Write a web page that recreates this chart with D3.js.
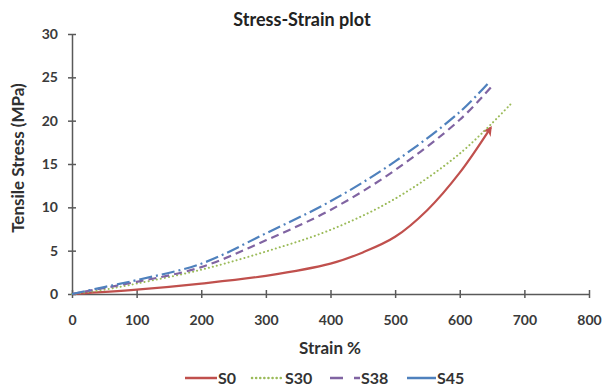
<!DOCTYPE html>
<html>
<head>
<meta charset="utf-8">
<script src="https://cdn.jsdelivr.net/npm/d3@7"></script>
<style>
  html, body { margin: 0; padding: 0; background: #fff; }
  svg { display: block; font-family: Lato, "Open Sans", sans-serif; }
</style>
</head>
<body>
<svg id="chart" width="606" height="389"></svg>
<script>
const seriesNames = ["S0", "S30", "S38", "S45"];
const strainS0 = [0, 100, 200, 300, 400, 450, 500, 550, 600, 648];
const stressS0 = [0, 0.5, 1.2, 2.1, 3.5, 4.8, 6.6, 9.7, 14.0, 19.2];
const strainS30 = [0, 50, 100, 200, 300, 400, 500, 600, 680];
const stressS30 = [0, 0.5, 1.2, 2.8, 4.9, 7.4, 11.0, 16.2, 22.0];
const strainS38 = [0, 50, 100, 200, 300, 400, 500, 600, 650];
const stressS38 = [0, 0.7, 1.4, 3.1, 6.2, 9.7, 14.3, 20.1, 24.0];
const strainS45 = [0, 50, 100, 200, 300, 400, 500, 600, 645];
const stressS45 = [0, 0.8, 1.6, 3.5, 7.0, 10.7, 15.3, 21.0, 24.4];
const xTicks = [0, 100, 200, 300, 400, 500, 600, 700, 800];
const yTicks = [0, 5, 10, 15, 20, 25, 30];

const series = [
  { name: seriesNames[0], xs: strainS0, ys: stressS0, color: "#C0504D", dash: null, cap: "butt" },
  { name: seriesNames[1], xs: strainS30, ys: stressS30, color: "#9BBB59", dash: "0.1,4", cap: "round" },
  { name: seriesNames[2], xs: strainS38, ys: stressS38, color: "#8064A2", dash: "8,5", cap: "butt" },
  { name: seriesNames[3], xs: strainS45, ys: stressS45, color: "#4F81BD", dash: "13,4,2,4", cap: "butt" }
];

const svg = d3.select("#chart");
const x = d3.scaleLinear().domain([0, 800]).range([72, 589]);
const y = d3.scaleLinear().domain([0, 30]).range([294, 34]);
const axisColor = "#595959";
const textColor = "#3a3a3a";

svg.append("defs").append("marker")
  .attr("id", "arrow")
  .attr("viewBox", "0 0 10 10")
  .attr("refX", 8).attr("refY", 5)
  .attr("markerWidth", 4.5).attr("markerHeight", 4.5)
  .attr("orient", "auto")
  .append("path").attr("d", "M0,0 L10,5 L0,10 L3,5 Z").attr("fill", "#C0504D");

const xAxis = d3.axisBottom(x).tickValues(xTicks).tickSize(0).tickPadding(21);
const gx = svg.append("g").attr("transform", `translate(0,${y(0)})`).call(xAxis);
const yAxis = d3.axisLeft(y).tickValues(yTicks).tickSize(0).tickPadding(14);
const gy = svg.append("g").attr("transform", `translate(${x(0)},0)`).call(yAxis);

[gx, gy].forEach(g => {
  g.select(".domain").attr("stroke", axisColor).attr("stroke-width", 1.5);
  g.selectAll("text").attr("fill", textColor).attr("font-size", 14).attr("font-weight", "bold")
    .attr("font-family", "Lato, sans-serif");
});
gx.selectAll(".tick").append("line").attr("y1", -4).attr("y2", 4)
  .attr("stroke", axisColor).attr("stroke-width", 1.5);
gy.selectAll(".tick").append("line").attr("x1", -4).attr("x2", 4)
  .attr("stroke", axisColor).attr("stroke-width", 1.5);

const line = d3.line().curve(d3.curveCatmullRom.alpha(0.5)).x(d => x(d[0])).y(d => y(d[1]));
series.forEach((s, i) => {
  const pts = s.xs.map((v, k) => [v, s.ys[k]]);
  const p = svg.append("path")
    .attr("d", line(pts))
    .attr("fill", "none")
    .attr("stroke", s.color)
    .attr("stroke-width", i === 1 ? 2 : 2.2)
    .attr("stroke-linecap", s.cap);
  if (s.dash) p.attr("stroke-dasharray", s.dash);
  if (i === 0) p.attr("marker-end", "url(#arrow)");
});

svg.append("text").attr("x", 302).attr("y", 26).attr("text-anchor", "middle")
  .attr("font-size", 18).attr("font-weight", "bold").attr("fill", "#222")
  .text("Stress-Strain plot");
svg.append("text").attr("x", 330).attr("y", 354).attr("text-anchor", "middle")
  .attr("font-size", 17).attr("font-weight", "bold").attr("fill", "#303030")
  .text("Strain %");
svg.append("text").attr("transform", "translate(24,158) rotate(-90)").attr("text-anchor", "middle")
  .attr("font-size", 17).attr("font-weight", "bold").attr("fill", "#303030")
  .text("Tensile Stress (MPa)");

const legendItems = [
  { lx: 185, tx: 218 },
  { lx: 252, tx: 285 },
  { lx: 330, tx: 361 },
  { lx: 407, tx: 437 }
];
const ly = 378;
series.forEach((s, i) => {
  const li = legendItems[i];
  const x2 = li.tx - 1;
  const l = svg.append("line").attr("x1", li.lx).attr("x2", x2).attr("y1", ly).attr("y2", ly)
    .attr("stroke", s.color).attr("stroke-width", 2.5).attr("stroke-linecap", s.cap);
  if (i === 1) l.attr("stroke-dasharray", "0.1,4");
  if (i === 2) l.attr("stroke-dasharray", "13,11,6");
  svg.append("text").attr("x", li.tx).attr("y", ly + 6)
    .attr("font-size", 16).attr("font-weight", "bold").attr("fill", "#333")
    .text(s.name);
});
</script>
</body>
</html>
